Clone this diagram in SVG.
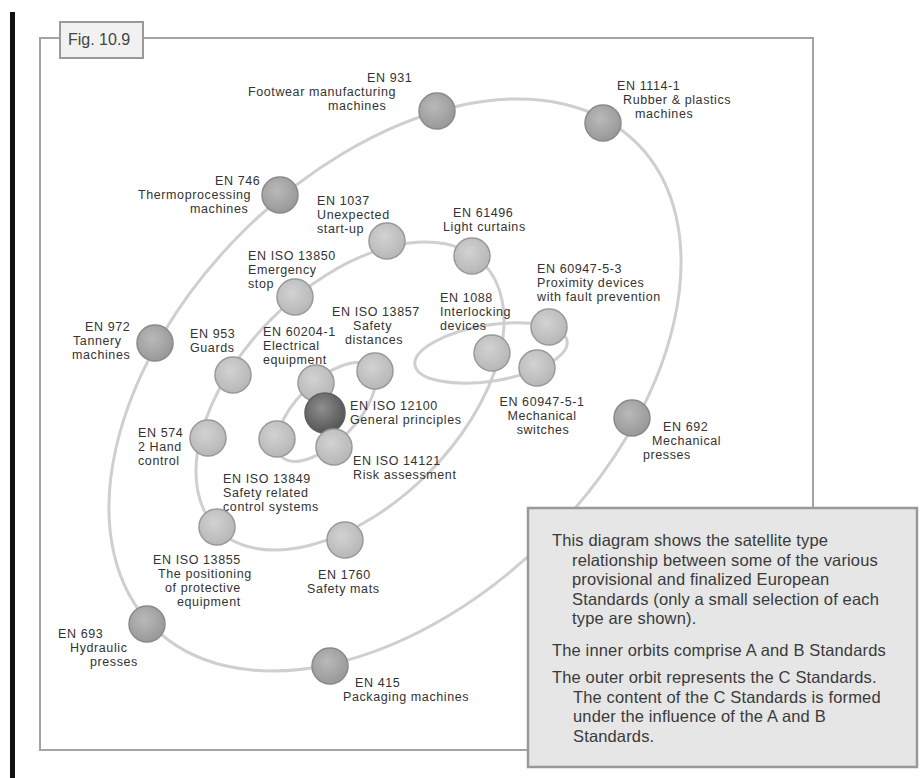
<svg xmlns="http://www.w3.org/2000/svg" width="923" height="778" viewBox="0 0 923 778">
<defs>
<radialGradient id="gOuter" cx="42%" cy="38%" r="65%"><stop offset="0" stop-color="#b9b9b9"/><stop offset="1" stop-color="#979797"/></radialGradient>
<radialGradient id="gInner" cx="42%" cy="38%" r="65%"><stop offset="0" stop-color="#d2d2d2"/><stop offset="1" stop-color="#b6b6b6"/></radialGradient>
<radialGradient id="gCore" cx="42%" cy="38%" r="65%"><stop offset="0" stop-color="#8e8e8e"/><stop offset="1" stop-color="#535353"/></radialGradient>
<style>
.orbit{fill:none;stroke:#cfcfcf;stroke-width:3}
.c-out{fill:url(#gOuter);stroke:#8a8a8a;stroke-width:1.5}
.c-in{fill:url(#gInner);stroke:#999;stroke-width:1.5}
.c-core{fill:url(#gCore);stroke:#5e5e5e;stroke-width:1.5}
.lbl{font-family:"Liberation Sans",Arial,sans-serif;font-size:12.5px;letter-spacing:0.6px;fill:#333}
.note{font-family:"Liberation Sans",Arial,sans-serif;font-size:16.5px;letter-spacing:0.15px;fill:#3a3a3a}
.mid{text-anchor:middle}
</style>
</defs>
<rect width="923" height="778" fill="#fff"/>
<rect x="10" y="12" width="5" height="766" fill="#111"/>
<rect id="frame" x="40" y="38" width="773" height="712" fill="none" stroke="#a3a3a3" stroke-width="2"/>
<g id="fig-label">
<rect x="60" y="22" width="83" height="36" fill="#f1f1f1" stroke="#9a9a9a" stroke-width="2"/>
<text x="68" y="45" style="font-family:'Liberation Sans',Arial,sans-serif;font-size:16px;fill:#444">Fig. 10.9</text>
</g>
<g id="connectors">
<ellipse class="orbit" cx="395" cy="385" rx="342" ry="216" transform="rotate(-45 395 385)"/>
<ellipse class="orbit" cx="350" cy="396" rx="188" ry="110" transform="rotate(-45 350 396)"/>
<ellipse class="orbit" cx="326" cy="412" rx="63" ry="30" transform="rotate(-45 326 412)"/>
<ellipse class="orbit" cx="491" cy="353" rx="77" ry="28" transform="rotate(-9 491 353)"/>
</g>
<g id="en931"><circle class="c-out" cx="437" cy="111" r="18"/>
<text class="lbl"><tspan x="367" y="82">EN 931</tspan><tspan x="248" y="96">Footwear manufacturing</tspan><tspan x="328" y="110">machines</tspan></text></g>
<g id="en1114-1"><circle class="c-out" cx="603" cy="123" r="18"/>
<text class="lbl"><tspan x="617" y="90">EN 1114-1</tspan><tspan x="623" y="104">Rubber &amp; plastics</tspan><tspan x="635" y="118">machines</tspan></text></g>
<g id="en746"><circle class="c-out" cx="280" cy="195" r="18"/>
<text class="lbl"><tspan x="215" y="185">EN 746</tspan><tspan x="138" y="199">Thermoprocessing</tspan><tspan x="190" y="213">machines</tspan></text></g>
<g id="en1037"><circle class="c-in" cx="387" cy="241" r="18"/>
<text class="lbl"><tspan x="317" y="205">EN 1037</tspan><tspan x="317" y="219">Unexpected</tspan><tspan x="317" y="233">start-up</tspan></text></g>
<g id="en61496"><circle class="c-in" cx="472" cy="256" r="18"/>
<text class="lbl"><tspan x="453" y="217">EN 61496</tspan><tspan x="443" y="231">Light curtains</tspan></text></g>
<g id="eniso13850"><circle class="c-in" cx="295" cy="297" r="18"/>
<text class="lbl"><tspan x="248" y="260">EN ISO 13850</tspan><tspan x="248" y="274">Emergency</tspan><tspan x="248" y="288">stop</tspan></text></g>
<g id="en60947-5-3"><circle class="c-in" cx="549" cy="327" r="18"/>
<text class="lbl"><tspan x="537" y="273">EN 60947-5-3</tspan><tspan x="537" y="287">Proximity devices</tspan><tspan x="537" y="301">with fault prevention</tspan></text></g>
<g id="en972"><circle class="c-out" cx="155" cy="343" r="18"/>
<text class="lbl"><tspan x="85" y="331">EN 972</tspan><tspan x="73" y="345">Tannery</tspan><tspan x="72" y="359">machines</tspan></text></g>
<g id="en953"><circle class="c-in" cx="233" cy="375" r="18"/>
<text class="lbl"><tspan x="190" y="338">EN 953</tspan><tspan x="190" y="352">Guards</tspan></text></g>
<g id="eniso13857"><circle class="c-in" cx="375" cy="371" r="18"/>
<text class="lbl"><tspan x="332" y="316">EN ISO 13857</tspan><tspan x="353" y="330">Safety</tspan><tspan x="345" y="344">distances</tspan></text></g>
<g id="en1088"><circle class="c-in" cx="492" cy="353" r="18"/>
<text class="lbl"><tspan x="440" y="302">EN 1088</tspan><tspan x="440" y="316">Interlocking</tspan><tspan x="440" y="330">devices</tspan></text></g>
<g id="en60947-5-1"><circle class="c-in" cx="537" cy="368" r="18"/>
<text class="lbl mid"><tspan x="542" y="406">EN 60947-5-1</tspan><tspan x="542" y="420">Mechanical</tspan><tspan x="543" y="434">switches</tspan></text></g>
<g id="en60204-1"><circle class="c-in" cx="316" cy="383" r="18"/>
<text class="lbl"><tspan x="263" y="336">EN 60204-1</tspan><tspan x="263" y="350">Electrical</tspan><tspan x="263" y="364">equipment</tspan></text></g>
<g id="eniso12100"><circle class="c-core" cx="325" cy="413" r="20"/>
<text class="lbl"><tspan x="350" y="410">EN ISO 12100</tspan><tspan x="350" y="424">General principles</tspan></text></g>
<g id="eniso14121"><circle class="c-in" cx="334" cy="447" r="18"/>
<text class="lbl"><tspan x="353" y="465">EN ISO 14121</tspan><tspan x="353" y="479">Risk assessment</tspan></text></g>
<g id="eniso13849"><circle class="c-in" cx="277" cy="439" r="18"/>
<text class="lbl"><tspan x="223" y="483">EN ISO 13849</tspan><tspan x="223" y="497">Safety related</tspan><tspan x="223" y="511">control systems</tspan></text></g>
<g id="en574"><circle class="c-in" cx="208" cy="438" r="18"/>
<text class="lbl"><tspan x="138" y="437">EN 574</tspan><tspan x="138" y="451">2 Hand</tspan><tspan x="138" y="465">control</tspan></text></g>
<g id="en692"><circle class="c-out" cx="632" cy="418" r="18"/>
<text class="lbl"><tspan x="663" y="431">EN 692</tspan><tspan x="652" y="445">Mechanical</tspan><tspan x="643" y="459">presses</tspan></text></g>
<g id="eniso13855"><circle class="c-in" cx="217" cy="527" r="18"/>
<text class="lbl"><tspan x="153" y="564">EN ISO 13855</tspan><tspan x="158" y="578">The positioning</tspan><tspan x="165" y="592">of protective</tspan><tspan x="177" y="606">equipment</tspan></text></g>
<g id="en1760"><circle class="c-in" cx="345" cy="540" r="18"/>
<text class="lbl"><tspan x="318" y="579">EN 1760</tspan><tspan x="307" y="593">Safety mats</tspan></text></g>
<g id="en693"><circle class="c-out" cx="147" cy="624" r="18"/>
<text class="lbl"><tspan x="58" y="638">EN 693</tspan><tspan x="70" y="652">Hydraulic</tspan><tspan x="90" y="666">presses</tspan></text></g>
<g id="en415"><circle class="c-out" cx="330" cy="666" r="18"/>
<text class="lbl"><tspan x="355" y="687">EN 415</tspan><tspan x="343" y="701">Packaging machines</tspan></text></g>
<g id="info-box">
<rect x="528" y="508" width="389" height="259" fill="#e6e6e6" stroke="#999" stroke-width="2.5"/>
<text class="note"><tspan x="552" y="546">This diagram shows the satellite type</tspan><tspan x="572" y="565.5">relationship between some of the various</tspan><tspan x="572" y="585">provisional and finalized European</tspan><tspan x="572" y="604.5">Standards (only a small selection of each</tspan><tspan x="572" y="624">type are shown).</tspan></text>
<text class="note" x="552" y="656">The inner orbits comprise A and B Standards</text>
<text class="note"><tspan x="552" y="683">The outer orbit represents the C Standards.</tspan><tspan x="573" y="702.5">The content of the C Standards is formed</tspan><tspan x="573" y="722">under the influence of the A and B</tspan><tspan x="573" y="741.5">Standards.</tspan></text>
</g>
</svg>
